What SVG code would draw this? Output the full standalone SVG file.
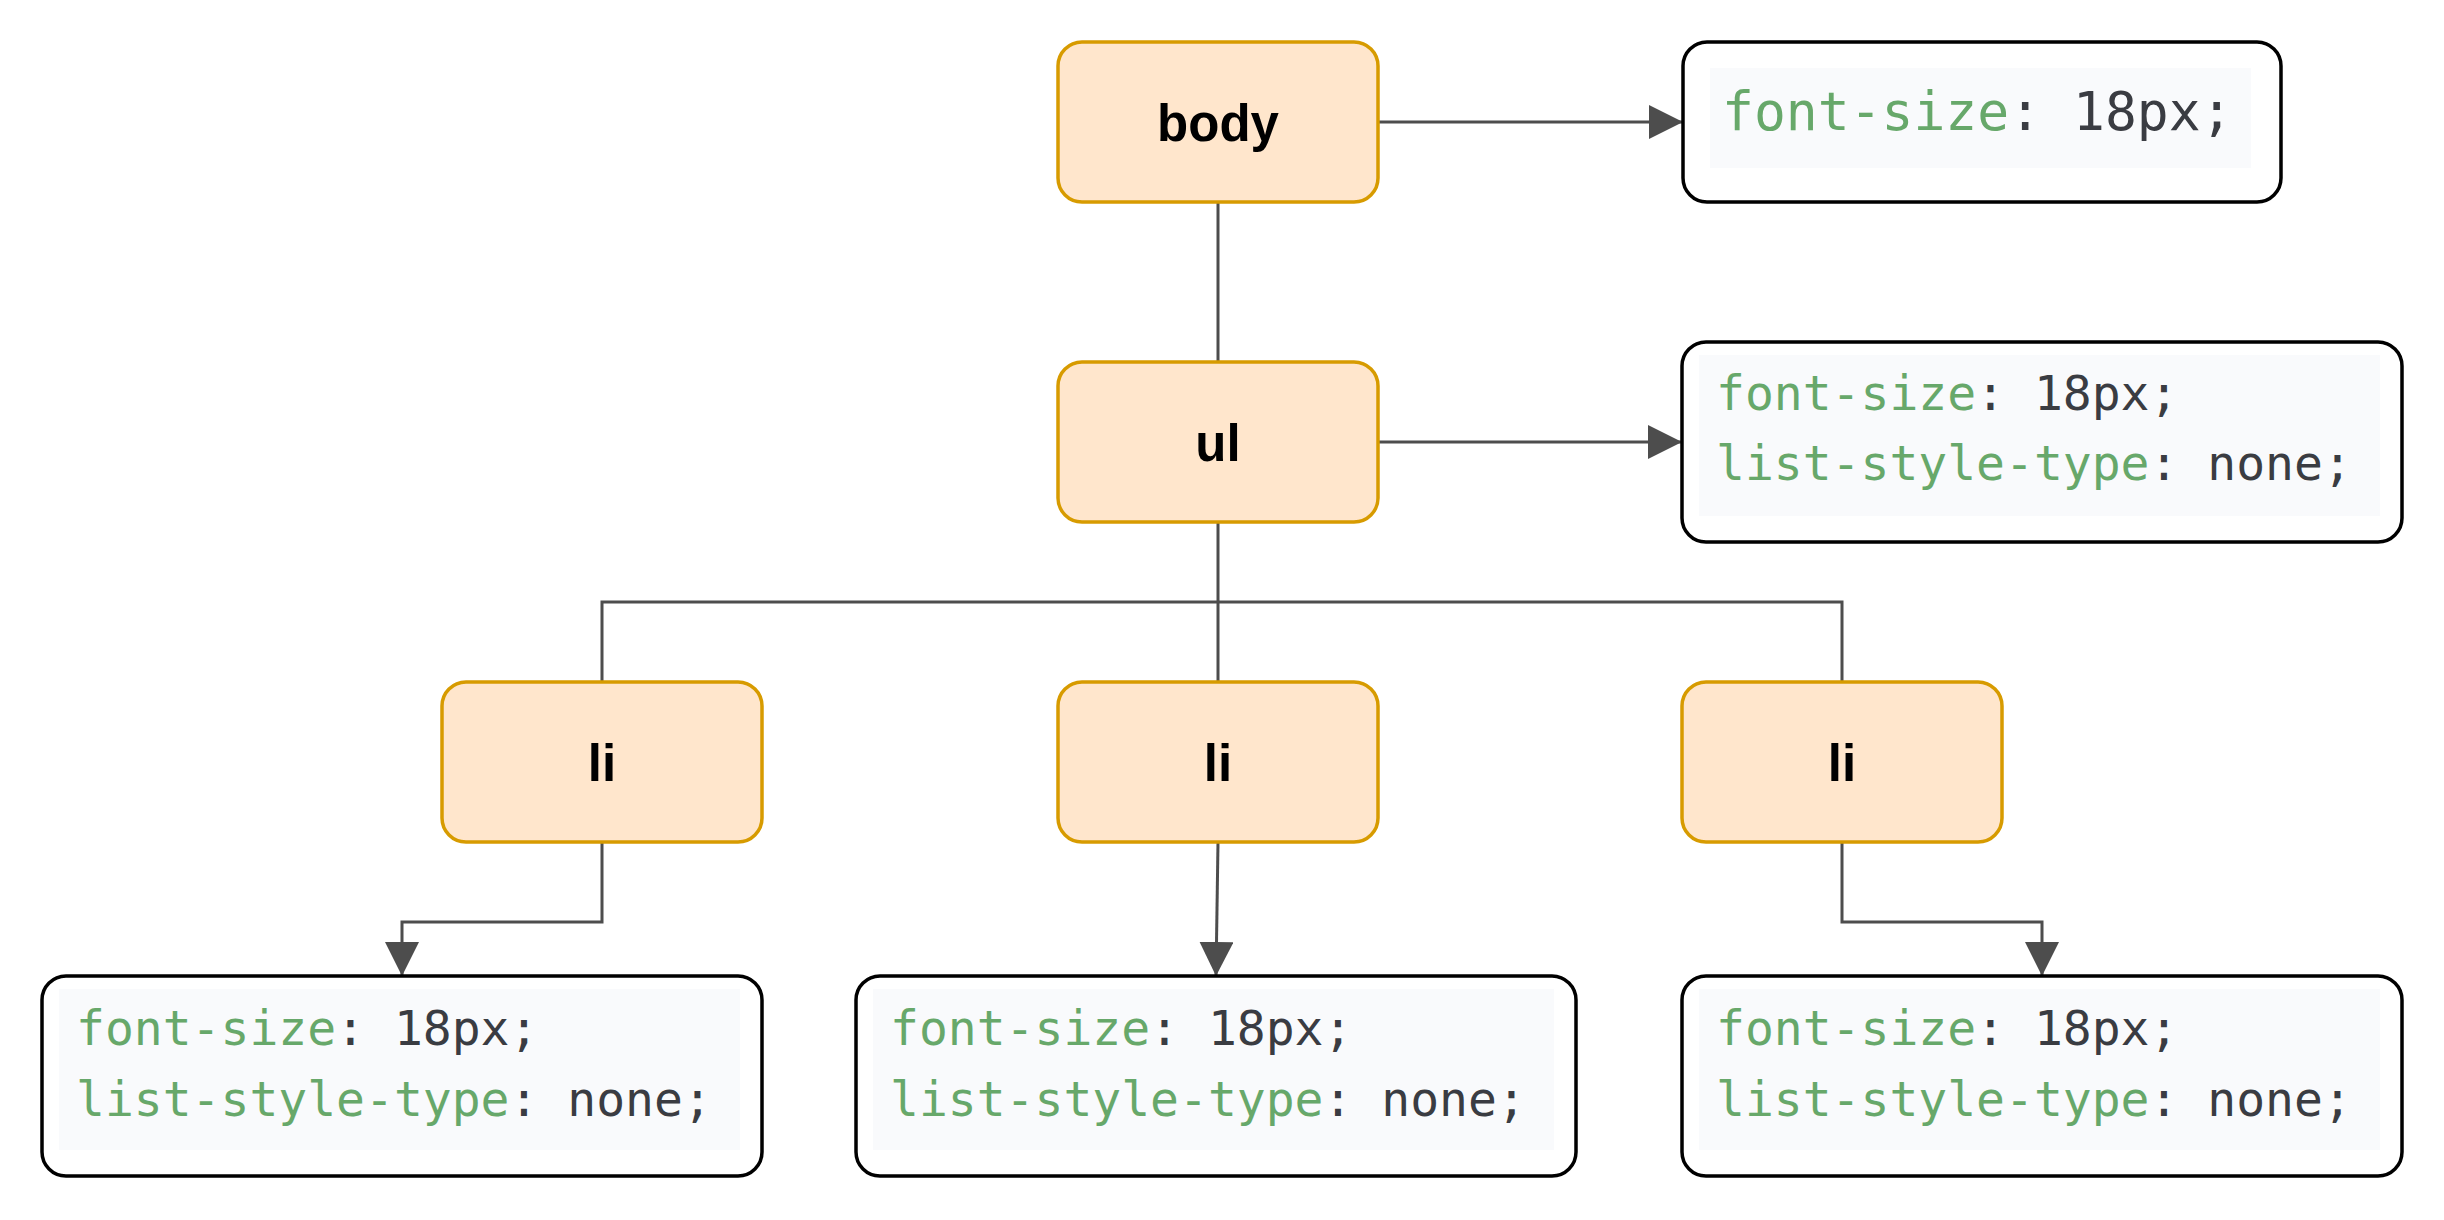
<svg xmlns="http://www.w3.org/2000/svg" width="2444" height="1220" viewBox="0 0 2444 1220">
<defs>
<style>
.node rect{fill:#ffe6cc;stroke:#d79b00;stroke-width:3.5}
.node text{font-family:"Liberation Sans",Arial,sans-serif;font-weight:bold;font-size:51px;fill:#000;text-anchor:middle}
.box .frame{fill:#fff;stroke:#000;stroke-width:3.5}
.box .bg{fill:#f9fafc;stroke:none}
.code{font-family:"DejaVu Sans Mono",monospace;font-size:48px;fill:#3a3c42}
.code.big{font-size:53px}
.prop{fill:#67a86a}
.edge{fill:none;stroke:#4d4d4d;stroke-width:3}
</style>
<marker id="arr" markerUnits="userSpaceOnUse" markerWidth="34" markerHeight="34" refX="34" refY="17" orient="auto" viewBox="0 0 34 34">
<path d="M0,0 L34,17 L0,34 Z" fill="#4d4d4d"/>
</marker>
</defs>
<rect width="2444" height="1220" fill="#fff"/>

<g id="connectors">
<path class="edge" d="M1378,122 H1683" marker-end="url(#arr)"/>
<path class="edge" d="M1218,202 V362"/>
<path class="edge" d="M1378,442 H1682" marker-end="url(#arr)"/>
<path class="edge" d="M1218,522 V682"/>
<path class="edge" d="M602,682 V602 H1842 V682"/>
<path class="edge" d="M602,842 V922 H402 V976" marker-end="url(#arr)"/>
<path class="edge" d="M1218,842 L1216,976" marker-end="url(#arr)"/>
<path class="edge" d="M1842,842 V922 H2042 V976" marker-end="url(#arr)"/>
</g>

<g id="node-body" class="node">
<rect x="1058" y="42" width="320" height="160" rx="24"/>
<text x="1218" y="141">body</text>
</g>
<g id="node-ul" class="node">
<rect x="1058" y="362" width="320" height="160" rx="24"/>
<text x="1218" y="461">ul</text>
</g>
<g id="node-li1" class="node">
<rect x="442" y="682" width="320" height="160" rx="24"/>
<text x="602" y="781">li</text>
</g>
<g id="node-li2" class="node">
<rect x="1058" y="682" width="320" height="160" rx="24"/>
<text x="1218" y="781">li</text>
</g>
<g id="node-li3" class="node">
<rect x="1682" y="682" width="320" height="160" rx="24"/>
<text x="1842" y="781">li</text>
</g>

<g id="css-body" class="box">
<rect class="frame" x="1683" y="42" width="598" height="160" rx="24"/>
<rect class="bg" x="1710" y="68" width="541" height="100"/>
<text class="code big" x="1722" y="130"><tspan class="prop">font-size</tspan>: 18px;</text>
</g>
<g id="css-ul" class="box">
<rect class="frame" x="1682" y="342" width="720" height="200" rx="24"/>
<rect class="bg" x="1699" y="355" width="681" height="161"/>
<text class="code" x="1716" y="410"><tspan class="prop">font-size</tspan>: 18px;</text>
<text class="code" x="1716" y="480"><tspan class="prop">list-style-type</tspan>: none;</text>
</g>
<g id="css-li1" class="box">
<rect class="frame" x="42" y="976" width="720" height="200" rx="24"/>
<rect class="bg" x="59" y="989" width="681" height="161"/>
<text class="code" x="76" y="1045"><tspan class="prop">font-size</tspan>: 18px;</text>
<text class="code" x="76" y="1116"><tspan class="prop">list-style-type</tspan>: none;</text>
</g>
<g id="css-li2" class="box">
<rect class="frame" x="856" y="976" width="720" height="200" rx="24"/>
<rect class="bg" x="873" y="989" width="681" height="161"/>
<text class="code" x="890" y="1045"><tspan class="prop">font-size</tspan>: 18px;</text>
<text class="code" x="890" y="1116"><tspan class="prop">list-style-type</tspan>: none;</text>
</g>
<g id="css-li3" class="box">
<rect class="frame" x="1682" y="976" width="720" height="200" rx="24"/>
<rect class="bg" x="1699" y="989" width="681" height="161"/>
<text class="code" x="1716" y="1045"><tspan class="prop">font-size</tspan>: 18px;</text>
<text class="code" x="1716" y="1116"><tspan class="prop">list-style-type</tspan>: none;</text>
</g>
</svg>
